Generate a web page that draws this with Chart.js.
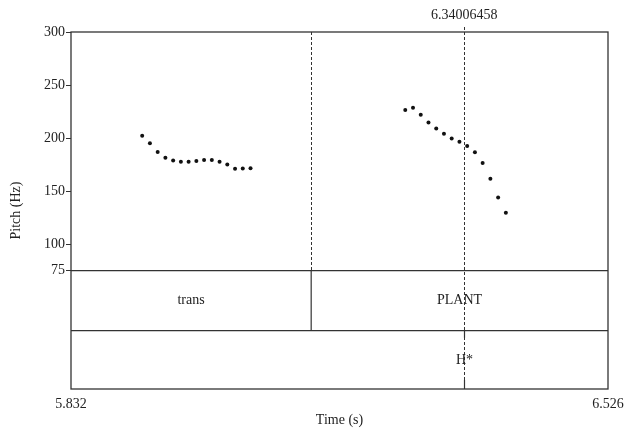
<!DOCTYPE html>
<html lang="en">
<head>
<meta charset="UTF-8">
<title>Pitch (Hz)</title>
<style>
  body { margin: 0; background: #fff; }
  canvas { display: block; }
</style>
<script src="https://cdn.jsdelivr.net/npm/chart.js"></script>
</head>
<body>
<canvas id="pitchChart" width="628" height="432"></canvas>
<script>
// pitch track, two voiced stretches (time in s, f0 in Hz)
const timesA = [5.924, 5.934, 5.944, 5.954, 5.964, 5.974, 5.984, 5.994, 6.004, 6.014, 6.024, 6.034, 6.044, 6.054, 6.064];
const pitchA = [202.1, 195.2, 186.8, 181.4, 178.8, 177.6, 177.6, 178.3, 179.2, 179.2, 177.6, 175.0, 171.0, 171.3, 171.6];
const timesB = [6.264, 6.274, 6.284, 6.294, 6.304, 6.314, 6.324, 6.334, 6.344, 6.354, 6.364, 6.374, 6.384, 6.394];
const pitchB = [226.4, 228.6, 222.0, 214.7, 209.0, 204.0, 199.6, 196.5, 192.4, 186.7, 176.4, 161.6, 143.9, 129.5];

const yTicks = [75, 100, 150, 200, 250, 300];
const xTicks = [5.832, 6.526];

// textgrid tiers
const wordBounds = [5.832, 6.1424, 6.526];
const wordLabels = ['trans', 'PLANT'];
const toneTimes = [6.34006458];
const toneLabels = ['H*'];
const cursorTime = 6.34006458;

// tiers sit under the pitch floor, in Hz units of the same axis
const floorHz = 75;
const tierLineHz = 18.4;
const yMin = -36.6;

const FONT = '"Liberation Serif", "Times New Roman", serif';
const INK = '#222';
const LINE = '#333';

function seg(ctx, x1, y1, x2, y2) {
    ctx.beginPath();
    ctx.moveTo(x1, y1);
    ctx.lineTo(x2, y2);
    ctx.stroke();
}

const textGridPlugin = {
    id: 'textGrid',
    beforeDatasetsDraw(chart) {
        const { ctx, chartArea: a, scales: { x, y } } = chart;
        ctx.save();
        ctx.strokeStyle = LINE;
        ctx.lineWidth = 1;
        ctx.setLineDash([3, 2]);
        // word boundaries continue dashed over the pitch panel
        wordBounds.slice(1, -1).forEach(t => {
            const px = Math.round(x.getPixelForValue(t)) + 0.5;
            seg(ctx, px, a.top, px, y.getPixelForValue(floorHz));
        });
        // cursor
        const cx = Math.round(x.getPixelForValue(cursorTime)) + 0.5;
        seg(ctx, cx, a.top - 5, cx, a.bottom);
        ctx.restore();
    },
    afterDraw(chart) {
        const { ctx, chartArea: a, scales: { x, y } } = chart;
        const yFloor = y.getPixelForValue(floorHz);
        const yTier = y.getPixelForValue(tierLineHz);
        ctx.save();
        ctx.strokeStyle = LINE;
        ctx.lineWidth = 1.3;
        ctx.strokeRect(a.left, a.top, a.right - a.left, a.bottom - a.top);
        seg(ctx, a.left, yFloor, a.right, yFloor);
        seg(ctx, a.left, yTier, a.right, yTier);

        // interval tier
        ctx.lineWidth = 1.2;
        wordBounds.slice(1, -1).forEach(t => {
            const px = x.getPixelForValue(t);
            seg(ctx, px, yFloor, px, yTier);
        });
        ctx.fillStyle = INK;
        ctx.font = '14px ' + FONT;
        ctx.textAlign = 'center';
        ctx.textBaseline = 'middle';
        wordLabels.forEach((lab, i) => {
            const mid = (x.getPixelForValue(wordBounds[i]) + x.getPixelForValue(wordBounds[i + 1])) / 2;
            ctx.fillText(lab, mid, (yFloor + yTier) / 2);
        });

        // point tier: short solid marks top and bottom, label in the middle
        toneTimes.forEach((t, i) => {
            const px = Math.round(x.getPixelForValue(t)) + 0.5;
            seg(ctx, px, yTier, px, yTier + 7);
            seg(ctx, px, a.bottom - 9, px, a.bottom);
            ctx.fillText(toneLabels[i], px, (yTier + a.bottom) / 2);
        });

        // cursor value above the frame
        ctx.fillText(String(cursorTime), x.getPixelForValue(cursorTime), 15);
        ctx.restore();
    }
};

const ctx = document.getElementById('pitchChart').getContext('2d');
new Chart(ctx, {
    type: 'scatter',
    data: {
        datasets: [
            { data: timesA.map((t, i) => ({ x: t, y: pitchA[i] })) },
            { data: timesB.map((t, i) => ({ x: t, y: pitchB[i] })) }
        ]
    },
    options: {
        responsive: false,
        animation: false,
        layout: { padding: { top: 32, right: 20, left: 0, bottom: 0 } },
        elements: {
            point: { radius: 2, pointStyle: 'circle', backgroundColor: '#111', borderWidth: 0 }
        },
        plugins: { legend: { display: false }, tooltip: { enabled: false } },
        scales: {
            x: {
                type: 'linear',
                min: xTicks[0],
                max: xTicks[1],
                afterBuildTicks: s => { s.ticks = xTicks.map(v => ({ value: v })); },
                afterFit: s => { s.height = 43; },
                grid: { display: false },
                border: { display: false },
                ticks: {
                    padding: -1,
                    color: INK,
                    font: { family: FONT, size: 14 },
                    maxRotation: 0,
                    callback: v => String(v)
                },
                title: {
                    display: true,
                    text: 'Time (s)',
                    color: INK,
                    font: { family: FONT, size: 14 },
                    padding: { top: 0, bottom: 3 }
                }
            },
            y: {
                min: yMin,
                max: 300,
                afterBuildTicks: s => { s.ticks = yTicks.map(v => ({ value: v })); },
                afterFit: s => { s.width = 71; },
                grid: { drawOnChartArea: false, drawTicks: true, tickLength: 5, color: LINE, lineWidth: 1 },
                border: { display: false },
                ticks: {
                    padding: 1,
                    color: INK,
                    font: { family: FONT, size: 14 },
                    callback: v => String(v)
                },
                title: {
                    display: true,
                    text: 'Pitch (Hz)',
                    color: INK,
                    font: { family: FONT, size: 14 },
                    padding: { top: 8, bottom: 0 }
                }
            }
        }
    },
    plugins: [textGridPlugin]
});
</script>
</body>
</html>
